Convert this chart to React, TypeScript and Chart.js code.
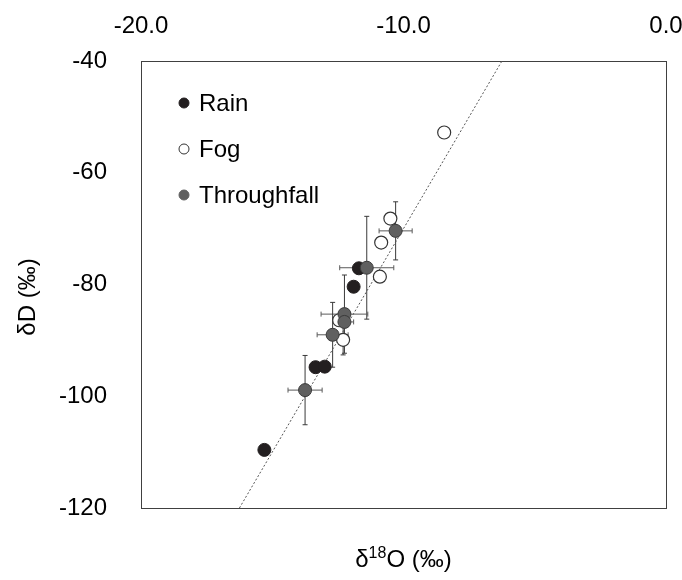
import React, { useEffect, useRef } from "react";
import { Chart, registerables } from "chart.js";
Chart.register(...registerables);

const FONT = "'Liberation Sans', Arial, sans-serif";

// Rain
const rainX = [-15.3, -13.35, -13.0, -11.9, -11.7];
const rainY = [-109.6, -94.8, -94.7, -80.4, -77.1];

// Fog
const fogX = [-8.45, -10.5, -10.85, -10.9, -12.45, -12.3];
const fogY = [-52.8, -68.2, -72.5, -78.6, -86.4, -89.9];
const fogXErr = [0, 0, 0, 0, 0, 0];
const fogYErr = [0, 0, 0, 0, 0, 2.7];

// Throughfall
const tfX = [-10.3, -11.4, -12.25, -12.25, -12.7, -13.75];
const tfY = [-70.4, -77.0, -85.3, -86.7, -89.0, -98.9];
const tfXErr = [0.63, 1.03, 0.89, 0.35, 0.59, 0.65];
const tfYErr = [5.2, 9.2, 7.0, 0, 5.8, 6.2];

// Meteoric water line (endpoints)
const lineX = [-16.25, -6.25];
const lineY = [-120, -40];

const xTicks = [-20, -10, 0];
const yTicks = [-120, -100, -80, -60, -40];

const seriesNames = ["Rain", "Fog", "Throughfall"];

const toPts = (xs: number[], ys: number[]) => xs.map((x, i) => ({ x, y: ys[i] }));

const framePlugin = {
  id: "frame",
  beforeDatasetsDraw(chart: any) {
    const { ctx, chartArea: a } = chart;
    ctx.save();
    ctx.strokeStyle = "#404040";
    ctx.lineWidth = 1;
    ctx.strokeRect(Math.round(a.left) + 0.5, Math.round(a.top) + 0.5, Math.round(a.right - a.left), Math.round(a.bottom - a.top));
    ctx.restore();
  },
};

const errorBarPlugin = {
  id: "errorBars",
  beforeDatasetsDraw(chart: any) {
    const { ctx, scales } = chart;
    const xs = scales.x, ys = scales.y;
    ctx.save();
    ctx.lineWidth = 1;
    const cap = 2.5;
    chart.data.datasets.forEach((ds: any) => {
      if (!ds.errX) return;
      ds.data.forEach((p: any, i: number) => {
        const px = xs.getPixelForValue(p.x);
        const py = ys.getPixelForValue(p.y);
        const ex = ds.errX[i], ey = ds.errY[i];
        if (ey > 0) {
          const t = ys.getPixelForValue(p.y + ey);
          const b = ys.getPixelForValue(p.y - ey);
          ctx.strokeStyle = "#3a3a3a";
          ctx.beginPath();
          ctx.moveTo(px, t); ctx.lineTo(px, b);
          ctx.moveTo(px - cap, t); ctx.lineTo(px + cap, t);
          ctx.moveTo(px - cap, b); ctx.lineTo(px + cap, b);
          ctx.stroke();
        }
        if (ex > 0) {
          const l = xs.getPixelForValue(p.x - ex);
          const r = xs.getPixelForValue(p.x + ex);
          ctx.strokeStyle = "#5a5a5a";
          ctx.beginPath();
          ctx.moveTo(l, py); ctx.lineTo(r, py);
          ctx.moveTo(l, py - cap); ctx.lineTo(l, py + cap);
          ctx.moveTo(r, py - cap); ctx.lineTo(r, py + cap);
          ctx.stroke();
        }
      });
    });
    ctx.restore();
  },
};

const legendPlugin = {
  id: "customLegend",
  afterDraw(chart: any) {
    const { ctx, chartArea: a } = chart;
    const styles = [
      { fill: "#231f20", stroke: "#231f20" },
      { fill: "#ffffff", stroke: "#333333" },
      { fill: "#606060", stroke: "#606060" },
    ];
    ctx.save();
    ctx.font = `24px ${FONT}`;
    ctx.textBaseline = "middle";
    ctx.textAlign = "left";
    seriesNames.forEach((name, i) => {
      const cy = a.top + 42 + i * 46;
      const cx = a.left + 43;
      ctx.beginPath();
      ctx.arc(cx, cy, 5, 0, Math.PI * 2);
      ctx.fillStyle = styles[i].fill;
      ctx.fill();
      ctx.lineWidth = 1;
      ctx.strokeStyle = styles[i].stroke;
      ctx.stroke();
      ctx.fillStyle = "#000";
      ctx.fillText(name, cx + 15, cy + 1);
    });
    ctx.restore();
  },
};

const axisTitlePlugin = {
  id: "axisTitles",
  afterDraw(chart: any) {
    const { ctx, chartArea: a } = chart;
    ctx.save();
    ctx.fillStyle = "#000";
    const big = `24px ${FONT}`;
    const small = `16px ${FONT}`;
    ctx.font = big;
    const w1 = ctx.measureText("δ").width;
    const w3 = ctx.measureText("O (‰)").width;
    ctx.font = small;
    const w2 = ctx.measureText("18").width;
    const total = w1 + w2 + w3;
    let x = (a.left + a.right) / 2 - total / 2;
    const base = 567;
    ctx.textAlign = "left";
    ctx.textBaseline = "alphabetic";
    ctx.font = big;
    ctx.fillText("δ", x, base);
    x += w1;
    ctx.font = small;
    ctx.fillText("18", x, base - 9);
    x += w2;
    ctx.font = big;
    ctx.fillText("O (‰)", x, base);
    ctx.translate(35, 297);
    ctx.rotate(-Math.PI / 2);
    ctx.textAlign = "center";
    ctx.font = big;
    ctx.fillText("δD (‰)", 0, 0);
    ctx.restore();
  },
};

export default function App() {
  const ref = useRef<HTMLCanvasElement>(null);
  useEffect(() => {
    const canvas = ref.current!;
    const chart = new Chart(canvas, {
      type: "scatter",
      data: {
        datasets: [
          {
            type: "line",
            label: "MWL",
            data: toPts(lineX, lineY),
            borderColor: "#555555",
            borderWidth: 1,
            borderDash: [2, 2],
            pointRadius: 0,
            fill: false,
            order: 4,
          } as any,
          {
            label: seriesNames[0],
            data: toPts(rainX, rainY),
            backgroundColor: "#231f20",
            borderColor: "#231f20",
            borderWidth: 1,
            pointRadius: 6.5,
            order: 3,
          },
          {
            label: seriesNames[1],
            data: toPts(fogX, fogY),
            backgroundColor: "#ffffff",
            borderColor: "#333333",
            borderWidth: 1.2,
            pointRadius: 6.5,
            order: 2,
            errX: fogXErr,
            errY: fogYErr,
          } as any,
          {
            label: seriesNames[2],
            data: toPts(tfX, tfY),
            backgroundColor: "#606060",
            borderColor: "#3a3a3a",
            borderWidth: 1,
            pointRadius: 6.5,
            order: 1,
            errX: tfXErr,
            errY: tfYErr,
          } as any,
        ],
      },
      options: {
        animation: false,
        responsive: true,
        maintainAspectRatio: false,
        layout: { padding: { left: 0, right: 16, top: 0, bottom: 72 } },
        plugins: { legend: { display: false }, tooltip: { enabled: false }, title: { display: false } },
        scales: {
          x: {
            type: "linear",
            position: "top",
            min: -20,
            max: 0,
            afterFit: (s: any) => { s.height = 61; s.paddingLeft = 0; s.paddingRight = 0; },
            afterBuildTicks: (s: any) => { s.ticks = xTicks.map((v) => ({ value: v })); },
            ticks: {
              font: { size: 24, family: FONT },
              color: "#000",
              padding: 20,
              maxRotation: 0,
              callback: (v: any) => Number(v).toFixed(1),
            },
            grid: { display: false, drawTicks: false },
            border: { display: false },
          },
          y: {
            type: "linear",
            min: -120,
            max: -40,
            afterFit: (s: any) => { s.width = 141; s.paddingTop = 0; s.paddingBottom = 0; },
            afterBuildTicks: (s: any) => { s.ticks = yTicks.map((v) => ({ value: v })); },
            ticks: {
              font: { size: 24, family: FONT },
              color: "#000",
              padding: 34,
              callback: (v: any) => String(v),
            },
            grid: { display: false, drawTicks: false },
            border: { display: false },
          },
        },
      },
      plugins: [framePlugin, errorBarPlugin, legendPlugin, axisTitlePlugin],
    });
    return () => chart.destroy();
  }, []);
  return (
    <div style={{ position: "fixed", left: 0, top: 0, width: 682, height: 580, background: "#fff" }}>
      <canvas ref={ref} />
    </div>
  );
}
